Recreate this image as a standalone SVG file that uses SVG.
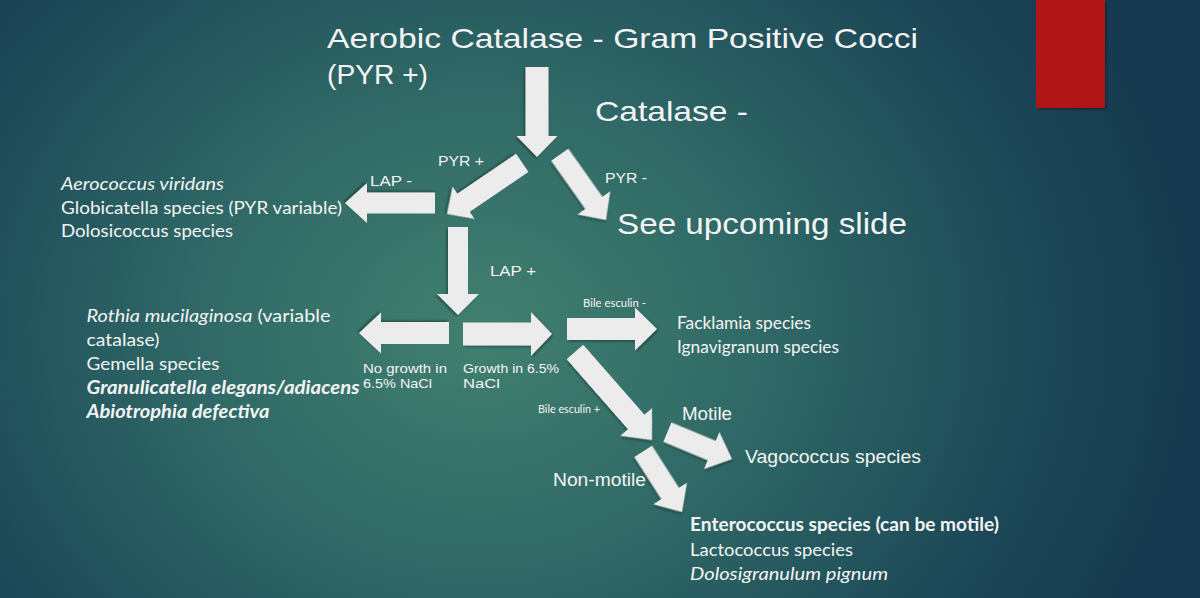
<svg xmlns="http://www.w3.org/2000/svg" width="1200" height="598" viewBox="0 0 1200 598">
  <defs>
    <radialGradient id="bg" gradientUnits="userSpaceOnUse" cx="480" cy="330" r="720" gradientTransform="translate(480 330) scale(1 0.85) translate(-480 -330)">
      <stop offset="0" stop-color="#41806f"/>
      <stop offset="0.4" stop-color="#2f6866"/>
      <stop offset="0.8" stop-color="#1b4656"/>
      <stop offset="1" stop-color="#163a4f"/>
    </radialGradient>
    <filter id="sh" x="-20%" y="-20%" width="140%" height="140%">
      <feDropShadow dx="1.5" dy="1.5" stdDeviation="1.2" flood-color="#000" flood-opacity="0.35"/>
    </filter>
  </defs>
  <style>
    .arr { fill: #ececec; filter: url(#sh); }
    .cg { font-family: "Liberation Sans", "DejaVu Sans", sans-serif; fill: #f4f4f4; }
    .cb { font-family: "Lato", "Open Sans", sans-serif; fill: #f4f4f4; }
    .big { font-size: 28px; }
    .lbl { font-size: 15px; }
    .sm { font-size: 13px; }
    .tiny { font-size: 11px; }
    .body { font-size: 18px; }
    .it { font-style: italic; }
    .bd { font-weight: bold; }
  </style>

  <rect x="0" y="0" width="1200" height="598" fill="url(#bg)"/>
  <rect id="accent" x="1036" y="0" width="69" height="108" fill="#b01818" filter="url(#sh)"/>

  <g id="connectors">
    <polygon class="arr" transform="translate(537 157) rotate(90)" points="-90,-11.5 -21,-11.5 -21,-20.5 0,0 -21,20.5 -21,11.5 -90,11.5"/>
    <polygon class="arr" transform="translate(447 214) rotate(145.8)" points="-91,-11 -20,-11 -20,-19.5 0,0 -20,19.5 -20,11 -91,11"/>
    <polygon class="arr" transform="translate(606 220) rotate(54.7)" points="-80,-10.5 -21,-10.5 -21,-20 0,0 -21,20 -21,10.5 -80,10.5"/>
    <polygon class="arr" transform="translate(345 203) rotate(180)" points="-90,-10.5 -22,-10.5 -22,-20 0,0 -22,20 -22,10.5 -90,10.5"/>
    <polygon class="arr" transform="translate(458 315) rotate(90)" points="-88,-10 -21,-10 -21,-21 0,0 -21,21 -21,10 -88,10"/>
    <polygon class="arr" transform="translate(359 333) rotate(180)" points="-90,-11 -22,-11 -22,-20.5 0,0 -22,20.5 -22,11 -90,11"/>
    <polygon class="arr" transform="translate(552 334)" points="-89,-11.5 -21,-11.5 -21,-22 0,0 -21,22 -21,11.5 -89,11.5"/>
    <polygon class="arr" transform="translate(657 329)" points="-90,-11 -22,-11 -22,-21.5 0,0 -22,21.5 -22,11 -90,11"/>
    <polygon class="arr" transform="translate(652 440) rotate(48.8)" points="-117,-11 -24,-11 -24,-21 0,0 -24,21 -24,11 -117,11"/>
    <polygon class="arr" transform="translate(732 459) rotate(22.6)" points="-70,-10.5 -22,-10.5 -22,-20 0,0 -22,20 -22,10.5 -70,10.5"/>
    <polygon class="arr" transform="translate(682 512) rotate(57.4)" points="-72,-10.5 -22,-10.5 -22,-20 0,0 -22,20 -22,10.5 -72,10.5"/>
  </g>

  <g id="title">
    <text class="cg big" x="327" y="48" textLength="591" lengthAdjust="spacingAndGlyphs">Aerobic Catalase - Gram Positive Cocci</text>
    <text class="cg big" x="327" y="84" textLength="101" lengthAdjust="spacingAndGlyphs">(PYR +)</text>
  </g>
  <g id="catalase-neg">
    <text class="cg big" x="595" y="121" textLength="153" lengthAdjust="spacingAndGlyphs">Catalase -</text>
  </g>
  <g id="upcoming">
    <text class="cg big" x="617" y="234" textLength="290" lengthAdjust="spacingAndGlyphs" style="font-size:29px">See upcoming slide</text>
  </g>
  <g id="labels">
    <text class="cg lbl" x="438" y="166" textLength="46" lengthAdjust="spacingAndGlyphs">PYR +</text>
    <text class="cg lbl" x="605" y="183" textLength="42" lengthAdjust="spacingAndGlyphs">PYR -</text>
    <text class="cg lbl" x="370" y="186" textLength="42" lengthAdjust="spacingAndGlyphs">LAP -</text>
    <text class="cg lbl" x="490" y="276" textLength="46" lengthAdjust="spacingAndGlyphs">LAP +</text>
    <text class="cg sm" x="363" y="373" textLength="84" lengthAdjust="spacingAndGlyphs">No growth in</text>
    <text class="cg sm" x="363" y="388" textLength="69" lengthAdjust="spacingAndGlyphs">6.5% NaCl</text>
    <text class="cg sm" x="463" y="373" textLength="96" lengthAdjust="spacingAndGlyphs">Growth in 6.5%</text>
    <text class="cg sm" x="463" y="388" textLength="37" lengthAdjust="spacingAndGlyphs">NaCl</text>
    <text class="cb tiny" x="583" y="307" textLength="63" lengthAdjust="spacingAndGlyphs">Bile esculin -</text>
    <text class="cb tiny" x="538" y="413" textLength="62" lengthAdjust="spacingAndGlyphs">Bile esculin +</text>
    <text class="cg" x="682" y="420" textLength="50" lengthAdjust="spacingAndGlyphs" style="font-size:17.5px">Motile</text>
    <text class="cg" x="553" y="486" textLength="93" lengthAdjust="spacingAndGlyphs" style="font-size:17.5px">Non-motile</text>
  </g>

  <g id="lap-neg-result">
    <text class="cb body it" x="61" y="190" textLength="163" lengthAdjust="spacingAndGlyphs">Aerococcus viridans</text>
    <text class="cb body" x="61" y="214" textLength="281" lengthAdjust="spacingAndGlyphs">Globicatella species (PYR variable)</text>
    <text class="cb body" x="61" y="237" textLength="172" lengthAdjust="spacingAndGlyphs">Dolosicoccus species</text>
  </g>
  <g id="no-growth-result">
    <text class="cb body" x="86.5" y="322" textLength="244" lengthAdjust="spacingAndGlyphs"><tspan class="it">Rothia mucilaginosa</tspan> (variable</text>
    <text class="cb body" x="86.5" y="346" textLength="73" lengthAdjust="spacingAndGlyphs">catalase)</text>
    <text class="cb body" x="86.5" y="370" textLength="133" lengthAdjust="spacingAndGlyphs">Gemella species</text>
    <text class="cb body it bd" x="86.5" y="394" textLength="273" lengthAdjust="spacingAndGlyphs">Granulicatella elegans/adiacens</text>
    <text class="cb body it bd" x="86.5" y="418" textLength="183" lengthAdjust="spacingAndGlyphs">Abiotrophia defectiva</text>
  </g>
  <g id="bile-neg-result">
    <text class="cb" x="677" y="329" textLength="134" lengthAdjust="spacingAndGlyphs" style="font-size:17px">Facklamia species</text>
    <text class="cb" x="677" y="353" textLength="162" lengthAdjust="spacingAndGlyphs" style="font-size:17px">Ignavigranum species</text>
  </g>
  <g id="motile-result">
    <text class="cg" x="745" y="463" textLength="176" lengthAdjust="spacingAndGlyphs" style="font-size:18px">Vagococcus species</text>
  </g>
  <g id="nonmotile-result">
    <text class="cb body bd" x="690" y="531" textLength="309" lengthAdjust="spacingAndGlyphs">Enterococcus species (can be motile)</text>
    <text class="cb body" x="690" y="556" textLength="163" lengthAdjust="spacingAndGlyphs">Lactococcus species</text>
    <text class="cb body it" x="690" y="580" textLength="198" lengthAdjust="spacingAndGlyphs">Dolosigranulum pignum</text>
  </g>
</svg>
